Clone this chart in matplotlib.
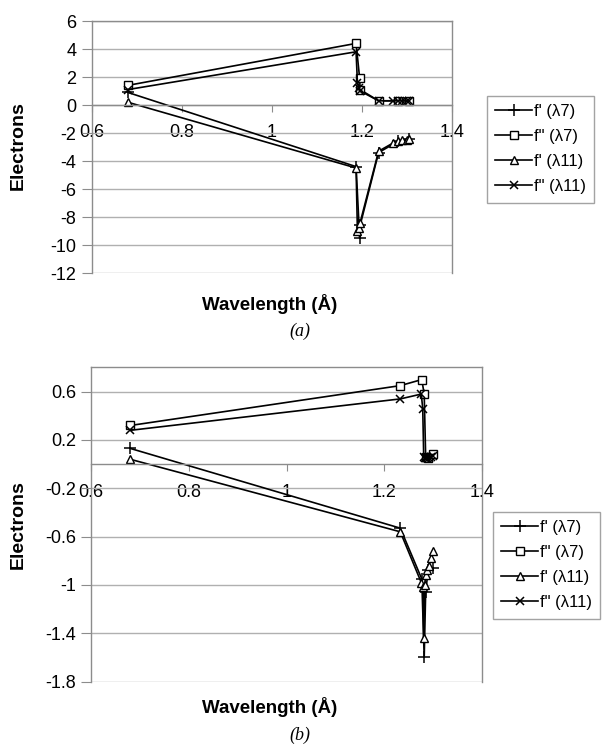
import matplotlib
matplotlib.use("Agg")
import matplotlib.pyplot as plt
from matplotlib.ticker import FuncFormatter

plt.rcParams['font.family'] = ['Liberation Sans', 'DejaVu Sans']
plt.rcParams['axes.unicode_minus'] = False

labels = ["f' (λ7)", 'f" (λ7)', "f' (λ11)", 'f" (λ11)']

# panel (a)
a_x7 = [0.68, 1.187, 1.195, 1.196, 1.237, 1.28, 1.305]
a_fp7 = [0.9, -4.4, -9.5, -8.6, -3.4, -2.6, -2.4]
a_fpp7 = [1.4, 4.4, 1.9, 1.1, 0.3, 0.3, 0.3]
a_x11 = [0.68, 1.187, 1.19, 1.193, 1.196, 1.237, 1.27, 1.28, 1.29, 1.30, 1.305]
a_fp11 = [0.2, -4.5, -9.0, -8.8, -8.4, -3.3, -2.7, -2.6, -2.5, -2.5, -2.4]
a_fpp11 = [1.1, 3.8, 1.6, 1.2, 1.0, 0.3, 0.3, 0.3, 0.3, 0.3, 0.3]

# panel (b)
b_x7 = [0.68, 1.233, 1.277, 1.282, 1.285, 1.29, 1.30]
b_fp7 = [0.13, -0.53, -0.95, -1.60, -1.06, -0.88, -0.86]
b_fpp7 = [0.32, 0.65, 0.70, 0.58, 0.06, 0.05, 0.08]
b_x11 = [0.68, 1.233, 1.276, 1.279, 1.281, 1.283, 1.285, 1.288, 1.291, 1.295, 1.30]
b_fp11 = [0.04, -0.56, -0.98, -1.02, -1.44, -1.0, -0.92, -0.88, -0.84, -0.78, -0.72]
b_fpp11 = [0.28, 0.54, 0.58, 0.46, 0.06, 0.05, 0.05, 0.05, 0.05, 0.06, 0.07]

x_ticks = [0.6, 0.8, 1.0, 1.2, 1.4]
a_yticks = [-12, -10, -8, -6, -4, -2, 0, 2, 4, 6]
b_yticks = [-1.8, -1.4, -1.0, -0.6, -0.2, 0.2, 0.6]

W, H = 608, 748
fig = plt.figure(figsize=(W / 100, H / 100), dpi=100)

grey = '#8c8c8c'
fmt = FuncFormatter(lambda v, p: f"{round(v, 2):g}")


def panel(rect, xs7, fp7, fpp7, xs11, fp11, fpp11, yticks, ylim, legtop):
    ax = fig.add_axes(rect)
    kw = dict(color='black', lw=1.2)
    ax.plot(xs7, fp7, marker='+', ms=8, mew=1.1, label=labels[0], **kw)
    ax.plot(xs7, fpp7, marker='s', ms=6, mfc='white', mec='black', mew=1.0, label=labels[1], **kw)
    ax.plot(xs11, fp11, marker='^', ms=6, mfc='white', mec='black', mew=1.0, label=labels[2], **kw)
    ax.plot(xs11, fpp11, marker='x', ms=6, mew=1.1, label=labels[3], **kw)

    ax.set_xlim(0.6, 1.4)
    ax.set_ylim(*ylim)
    ax.set_xticks(x_ticks)
    ax.set_yticks(yticks)
    ax.xaxis.set_major_formatter(fmt)
    ax.yaxis.set_major_formatter(fmt)
    ax.yaxis.grid(True, color='#b0b0b0', lw=1.0)
    ax.set_axisbelow(True)
    ax.spines['bottom'].set_position(('data', 0))
    for s in ax.spines.values():
        s.set_color(grey)
        s.set_linewidth(1.0)
    ax.tick_params(axis='y', direction='out', length=7, color=grey, labelsize=13, pad=4)
    ax.tick_params(axis='x', direction='out', length=5, color=grey, labelsize=13, pad=9)

    leg = ax.legend(loc='upper left', bbox_to_anchor=legtop, bbox_transform=fig.transFigure,
                    fontsize=12, frameon=True, fancybox=False, handlelength=2.2,
                    handletextpad=0.1, labelspacing=0.6, borderpad=0.5, borderaxespad=0)
    leg.get_frame().set_edgecolor(grey)
    leg.get_frame().set_linewidth(1.0)
    return ax


panel([91.7 / W, 1 - 273 / H, (452 - 91.7) / W, (273 - 21) / H],
      a_x7, a_fp7, a_fpp7, a_x11, a_fp11, a_fpp11, a_yticks, (-12, 6),
      (487 / W, 1 - 96 / H))
panel([91.3 / W, 1 - 681.6 / H, (481.8 - 91.3) / W, (681.6 - 367.5) / H],
      b_x7, b_fp7, b_fpp7, b_x11, b_fp11, b_fpp11, b_yticks, (-1.8, 0.8),
      (493 / W, 1 - 512 / H))

for yc in (146, 525):
    fig.text(18 / W, 1 - yc / H, 'Electrons', rotation=90, fontsize=14,
             fontweight='bold', ha='center', va='center')
for yc in (304, 707):
    fig.text(270 / W, 1 - yc / H, 'Wavelength (Å)', fontsize=13.5,
             fontweight='bold', ha='center', va='center')
fig.text(300 / W, 1 - 331 / H, '(a)', fontsize=13, family='Liberation Serif',
         style='italic', ha='center', va='center')
fig.text(300 / W, 1 - 735 / H, '(b)', fontsize=13, family='Liberation Serif',
         style='italic', ha='center', va='center')

fig.savefig('out.png', dpi=100)
